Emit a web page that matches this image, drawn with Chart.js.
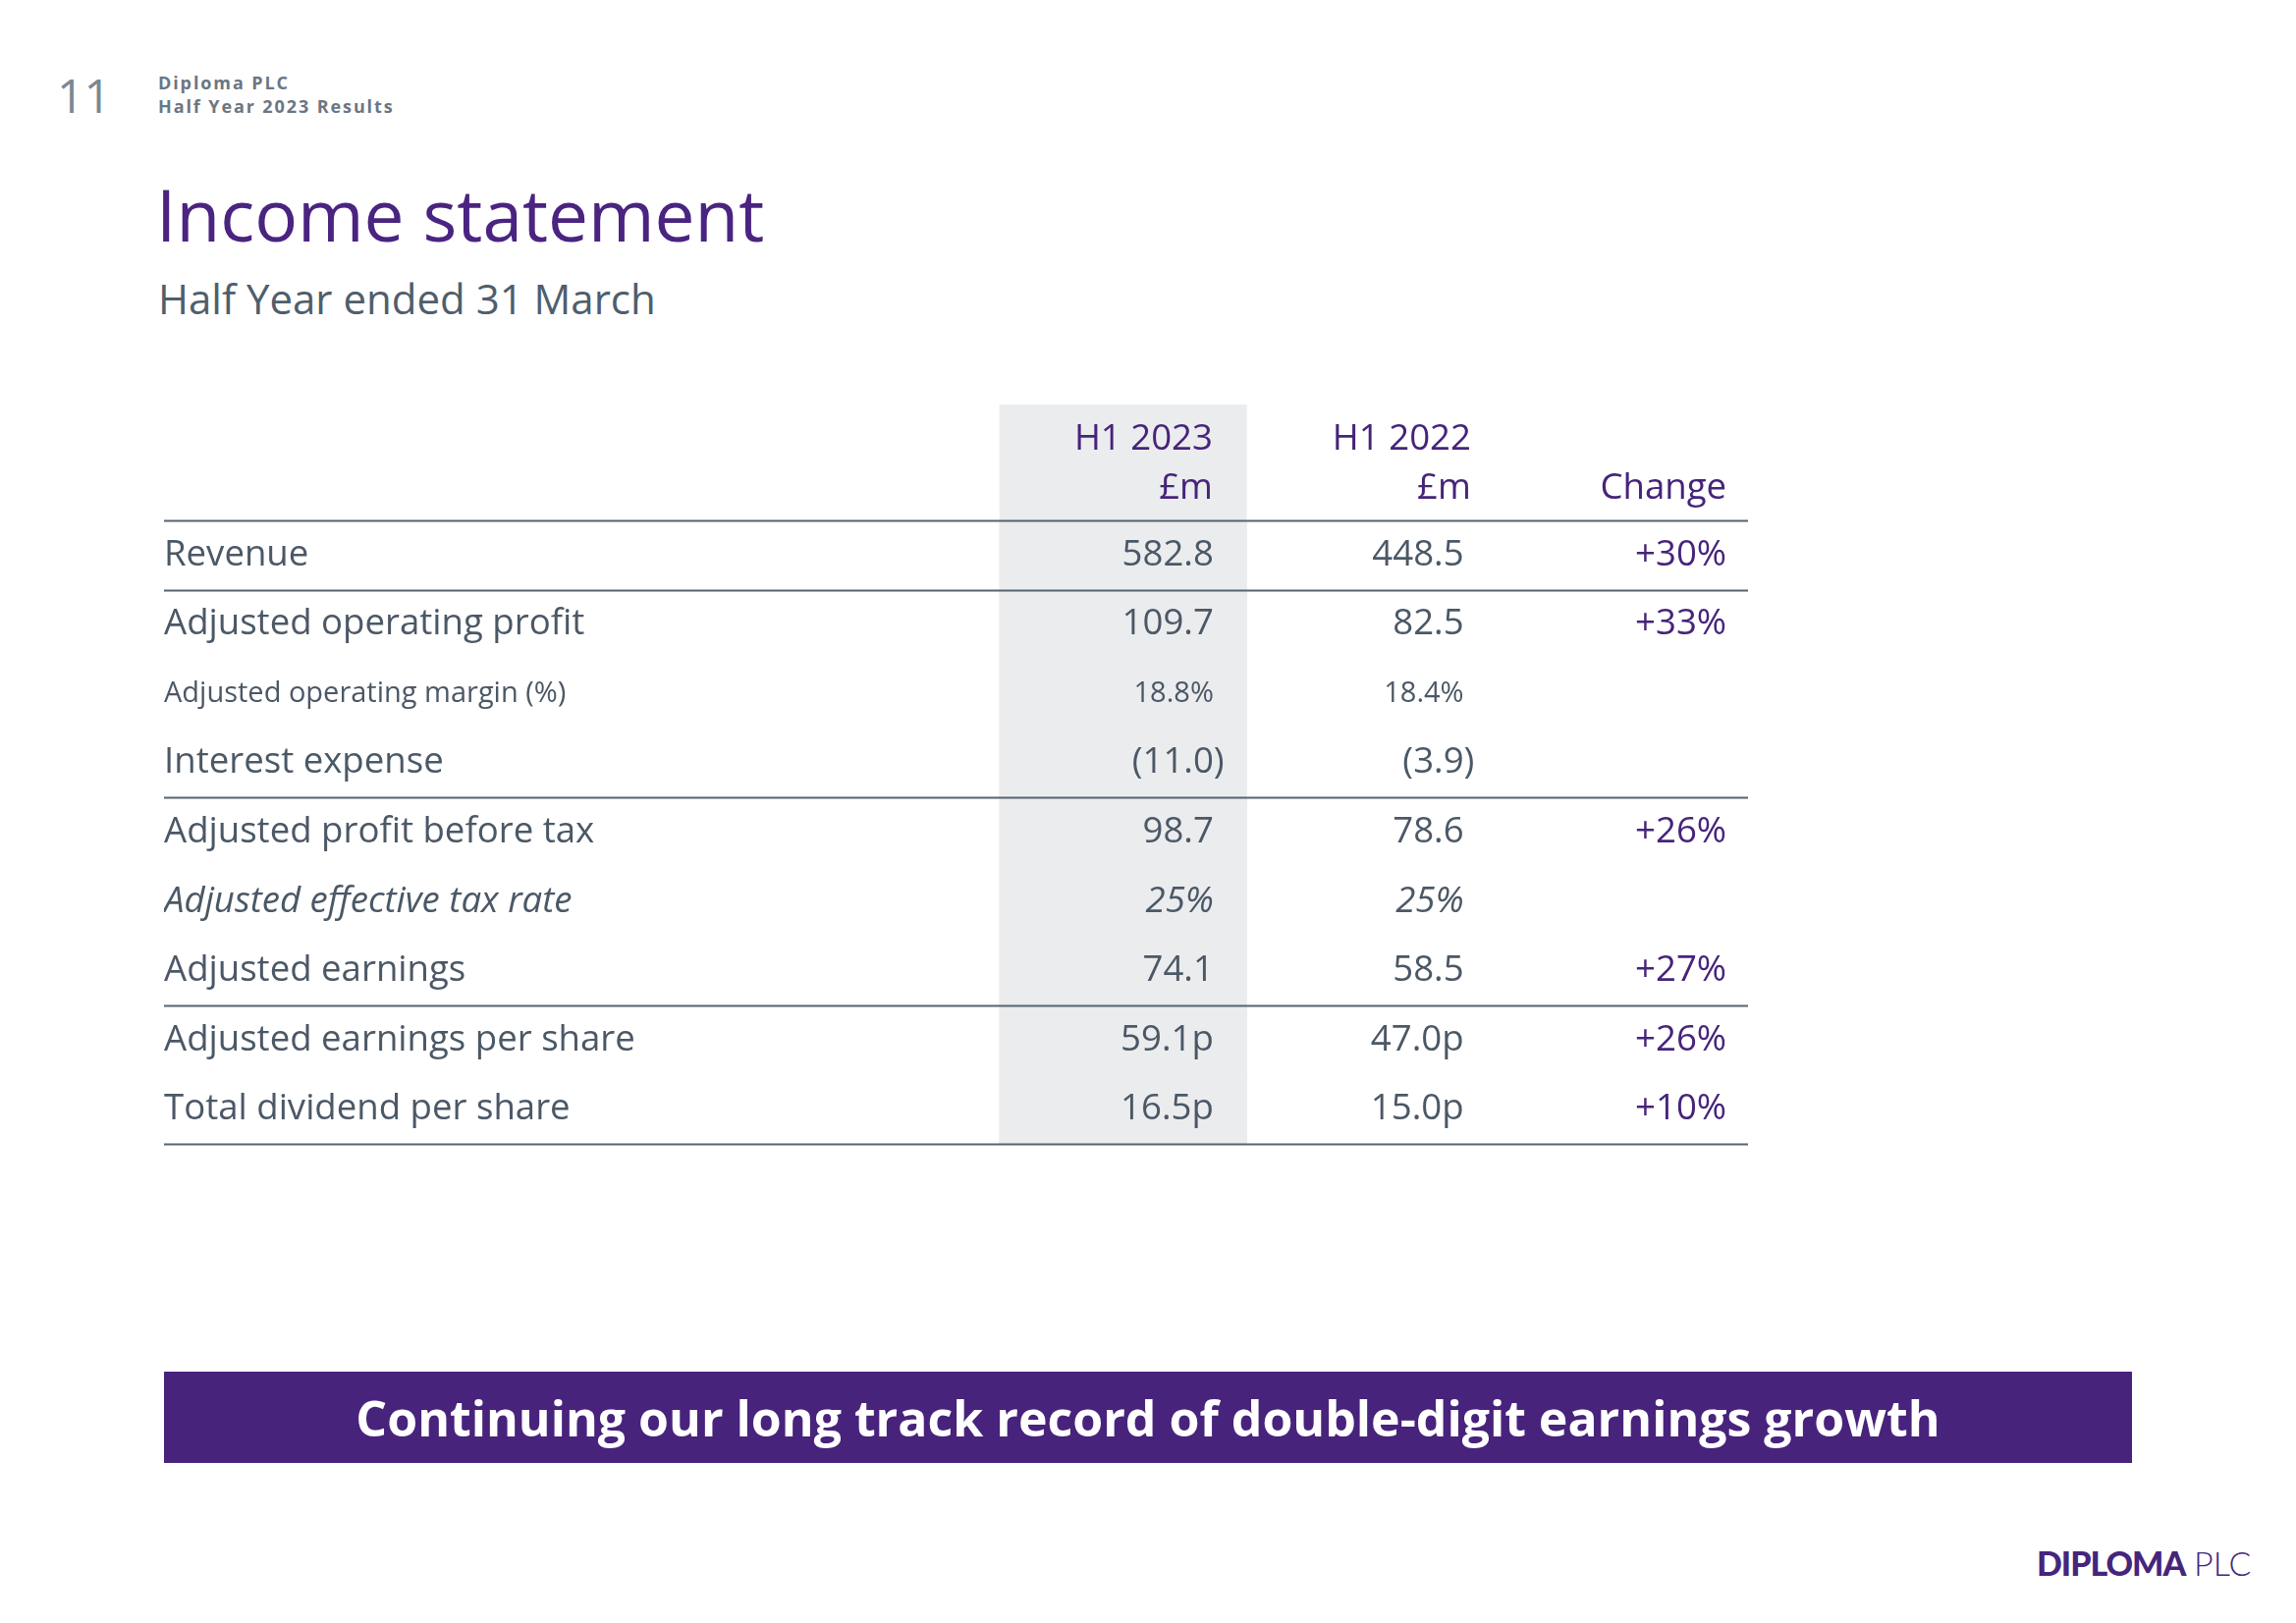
<!DOCTYPE html>
<html>
<head>
<meta charset="utf-8">
<script src="https://cdn.jsdelivr.net/npm/chart.js@4.4.1/dist/chart.umd.min.js"></script>
<style>
  body { margin: 0; background: #fff; width: 2338px; height: 1653px; overflow: hidden; position: relative; font-family: "Open Sans", sans-serif; }
  .abs { position: absolute; line-height: 1; white-space: nowrap; }
  #pageNo { left: 58px; top: 73px; font-size: 48px; color: #7b8794; }
  #meta1 { left: 161px; top: 75px; font-size: 18px; font-weight: 700; color: #6b7683; letter-spacing: 1.9px; }
  #meta2 { left: 161px; top: 99px; font-size: 18px; font-weight: 700; color: #6b7683; letter-spacing: 1.9px; }
  #title { left: 159px; top: 181px; font-size: 73px; color: #4a2480; }
  #subtitle { left: 161px; top: 283px; font-size: 42px; color: #4f5e6c; }
  #banner { position: absolute; left: 167px; top: 1397px; width: 2004px; height: 93px; background: #48237c;
            display: flex; align-items: center; justify-content: center; color: #fff; font-weight: 700; font-size: 50px; }
  #logo { left: 2074px; top: 1575px; font-family: Lato, sans-serif; font-size: 34px; color: #46257c; }
  #logo b { font-weight: 900; letter-spacing: -1px; }
  #logo span { font-weight: 300; }
  #tableChart { position: absolute; left: 167px; top: 400px; }
</style>
</head>
<body>
<div class="abs" id="pageNo">11</div>
<div class="abs" id="meta1">Diploma PLC</div>
<div class="abs" id="meta2">Half Year 2023 Results</div>
<div class="abs" id="title">Income statement</div>
<div class="abs" id="subtitle">Half Year ended 31 March</div>
<canvas id="tableChart" width="1613" height="787"></canvas>
<div id="banner">Continuing our long track record of double-digit earnings growth</div>
<div class="abs" id="logo"><b>DIPLOMA</b> <span>PLC</span></div>

<script>
// Table data
const rowLabels = [
    'Revenue',
    'Adjusted operating profit',
    'Adjusted operating margin (%)',
    'Interest expense',
    'Adjusted profit before tax',
    'Adjusted effective tax rate',
    'Adjusted earnings',
    'Adjusted earnings per share',
    'Total dividend per share'
];
const h1_2023 = ['582.8', '109.7', '18.8%', '(11.0)', '98.7', '25%', '74.1', '59.1p', '16.5p'];
const h1_2022 = ['448.5', '82.5', '18.4%', '(3.9)', '78.6', '25%', '58.5', '47.0p', '15.0p'];
const change = ['+30%', '+33%', '', '', '+26%', '', '+27%', '+26%', '+10%'];
const columnHeads = [['H1 2023', '£m'], ['H1 2022', '£m'], ['', 'Change']];

// rows that get a rule underneath them
const ruleAfter = ['Revenue', 'Interest expense', 'Adjusted earnings', 'Total dividend per share'];
const smallRows = ['Adjusted operating margin (%)'];
const italicRows = ['Adjusted effective tax rate'];

const GREY = '#4b5866';
const PURPLE = '#46247a';
const FONT = '"Open Sans", sans-serif';

// column positions on the x scale (0..1 across the plot area)
const shade = [0.165, 0.441];
const columns = [
    { values: h1_2023, right: 0.404, headRight: 0.403, color: GREY },
    { values: h1_2022, right: 0.683, headRight: 0.691, color: GREY },
    { values: change, right: 0.976, headRight: 0.976, color: PURPLE }
];

function rowFont(i) {
    const label = rowLabels[i];
    return {
        family: FONT,
        size: smallRows.includes(label) ? 29 : 36.6,
        style: italicRows.includes(label) ? 'italic' : 'normal'
    };
}

const tablePlugin = {
    id: 'tableText',
    beforeDatasetsDraw(chart) {
        const { ctx, chartArea, scales: { x } } = chart;
        // shaded column continues up behind the header
        ctx.save();
        ctx.fillStyle = '#ebecee';
        const xl = x.getPixelForValue(shade[0]);
        const xr = x.getPixelForValue(shade[1]);
        ctx.fillRect(xl, chartArea.top - 118, xr - xl, 119);
        ctx.restore();
    },
    afterDatasetsDraw(chart) {
        const { ctx, chartArea, scales: { x, y } } = chart;
        ctx.save();

        // header
        ctx.textAlign = 'right';
        ctx.textBaseline = 'alphabetic';
        ctx.fillStyle = PURPLE;
        ctx.font = `36.6px ${FONT}`;
        columns.forEach((col, c) => {
            const px = x.getPixelForValue(col.headRight);
            ctx.fillText(columnHeads[c][0], px, chartArea.top - 72);
            ctx.fillText(columnHeads[c][1], px, chartArea.top - 22);
        });

        // cell values
        ctx.textBaseline = 'middle';
        rowLabels.forEach((label, i) => {
            const f = rowFont(i);
            ctx.font = `${f.style} ${f.size}px ${f.family}`;
            const py = y.getPixelForValue(i);
            columns.forEach(col => {
                const text = col.values[i];
                if (!text) return;
                let px = x.getPixelForValue(col.right);
                // negatives in brackets: the closing bracket hangs past the column
                if (text.endsWith(')')) px += ctx.measureText(')').width;
                ctx.fillStyle = col.color;
                ctx.fillText(text, px, py);
            });
        });

        // rules
        ctx.strokeStyle = '#56636f';
        ctx.lineWidth = 2;
        const left = y.left;
        const right = chartArea.right;
        const step = y.getPixelForValue(1) - y.getPixelForValue(0);
        const rule = yy => {
            ctx.beginPath();
            ctx.moveTo(left, Math.round(yy) + 0.5);
            ctx.lineTo(right, Math.round(yy) + 0.5);
            ctx.stroke();
        };
        rule(y.getPixelForValue(0) - step / 2);
        rowLabels.forEach((label, i) => {
            if (ruleAfter.includes(label)) rule(y.getPixelForValue(i) + step / 2);
        });
        ctx.restore();
    }
};

const ctx = document.getElementById('tableChart').getContext('2d');
new Chart(ctx, {
    type: 'bar',
    data: {
        labels: rowLabels,
        datasets: [{
            label: 'H1 2023 shading',
            data: rowLabels.map(() => shade),
            backgroundColor: '#ebecee',
            borderWidth: 0,
            barPercentage: 1,
            categoryPercentage: 1
        }]
    },
    options: {
        indexAxis: 'y',
        responsive: false,
        animation: false,
        layout: { padding: { top: 130, bottom: 10, left: 0, right: 0 } },
        plugins: { legend: { display: false }, tooltip: { enabled: false } },
        scales: {
            x: { display: false, min: 0, max: 1 },
            y: {
                afterFit(scale) { scale.width = 700; },
                grid: { display: false },
                border: { display: false },
                ticks: {
                    crossAlign: 'far',
                    padding: 0,
                    color: GREY,
                    font: c => rowFont(c.index)
                }
            }
        }
    },
    plugins: [tablePlugin]
});
</script>
</body>
</html>
